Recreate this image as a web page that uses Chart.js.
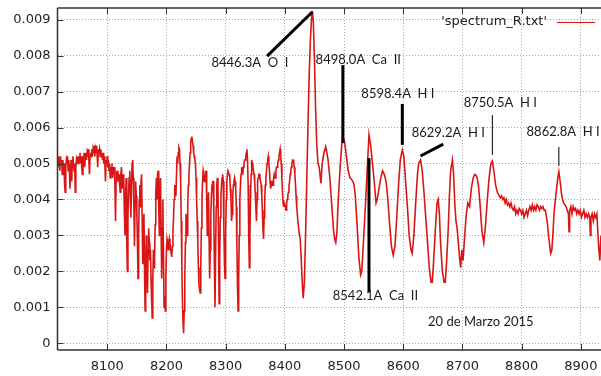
<!DOCTYPE html>
<html>
<head>
<meta charset="utf-8">
<script src="https://cdn.jsdelivr.net/npm/chart.js@4.4.0/dist/chart.umd.min.js"></script>
<style>
  html, body { margin: 0; padding: 0; background: #fff; overflow: hidden; }
  canvas { display: block; }
</style>
</head>
<body>
<canvas id="c" width="601" height="376"></canvas>
<script>
// Wavelength (Angstrom) and relative flux of the spectrum
const wavelength = [
  8016, 8017, 8018, 8019, 8020, 8021, 8022, 8023, 8024, 8025, 8026, 8027, 8028, 8029, 8030, 8031, 8032, 8033, 8034, 8035,
  8036, 8037, 8038, 8039, 8040, 8041, 8042, 8043, 8044, 8045, 8046, 8047, 8048, 8049, 8050, 8051, 8052, 8053, 8054, 8055,
  8056, 8057, 8058, 8059, 8060, 8061, 8062, 8063, 8064, 8065, 8066, 8067, 8068, 8069, 8070, 8071, 8072, 8073, 8074, 8075,
  8076, 8077, 8078, 8079, 8080, 8081, 8082, 8083, 8084, 8085, 8086, 8087, 8088, 8089, 8090, 8091, 8092, 8093, 8094, 8095,
  8096, 8097, 8098, 8099, 8100, 8101, 8102, 8103, 8104, 8105, 8106, 8107, 8108, 8109, 8110, 8111, 8112, 8113, 8114, 8115,
  8116, 8117, 8118, 8119, 8120, 8121, 8122, 8123, 8124, 8125, 8126, 8127, 8128, 8129, 8130, 8131, 8132, 8133, 8134, 8135,
  8136, 8137, 8138, 8139, 8140, 8141, 8142, 8143, 8144, 8145, 8146, 8147, 8148, 8149, 8150, 8151, 8152, 8153, 8154, 8155,
  8156, 8157, 8158, 8159, 8160, 8161, 8162, 8163, 8164, 8165, 8166, 8167, 8168, 8169, 8170, 8171, 8172, 8173, 8174, 8175,
  8176, 8177, 8178, 8179, 8180, 8181, 8182, 8183, 8184, 8185, 8186, 8187, 8188, 8189, 8190, 8191, 8192, 8193, 8194, 8195,
  8196, 8197, 8198, 8199, 8200, 8201, 8202, 8203, 8204, 8205, 8206, 8207, 8208, 8209, 8210, 8211, 8212, 8213, 8214, 8215,
  8216, 8217, 8218, 8219, 8220, 8221, 8222, 8223, 8224, 8225, 8226, 8227, 8228, 8229, 8230, 8231, 8232, 8233, 8234, 8235,
  8236, 8237, 8238, 8239, 8240, 8241, 8242, 8243, 8244, 8245, 8246, 8247, 8248, 8249, 8250, 8251, 8252, 8253, 8254, 8255,
  8256, 8257, 8258, 8259, 8260, 8261, 8262, 8263, 8264, 8265, 8266, 8267, 8268, 8269, 8270, 8271, 8272, 8273, 8274, 8275,
  8276, 8277, 8278, 8279, 8280, 8281, 8282, 8283, 8284, 8285, 8286, 8287, 8288, 8289, 8290, 8291, 8292, 8293, 8294, 8295,
  8296, 8297, 8298, 8299, 8300, 8301, 8302, 8303, 8304, 8305, 8306, 8307, 8308, 8309, 8310, 8311, 8312, 8313, 8314, 8315,
  8316, 8317, 8318, 8319, 8320, 8321, 8322, 8323, 8324, 8325, 8326, 8327, 8328, 8329, 8330, 8331, 8332, 8333, 8334, 8335,
  8336, 8337, 8338, 8339, 8340, 8341, 8342, 8343, 8344, 8345, 8346, 8347, 8348, 8349, 8350, 8351, 8352, 8353, 8354, 8355,
  8356, 8357, 8358, 8359, 8360, 8361, 8362, 8363, 8364, 8365, 8366, 8367, 8368, 8369, 8370, 8371, 8372, 8373, 8374, 8375,
  8376, 8377, 8378, 8379, 8380, 8381, 8382, 8383, 8384, 8385, 8386, 8387, 8388, 8389, 8390, 8391, 8392, 8393, 8394, 8395,
  8396, 8397, 8398, 8399, 8400, 8401, 8402, 8403, 8404, 8405, 8406, 8407, 8408, 8409, 8410, 8411, 8412, 8413, 8414, 8415,
  8416, 8417, 8418, 8419, 8420, 8422, 8424, 8426, 8428, 8430, 8431, 8433, 8435, 8437, 8439, 8441,
  8443, 8445, 8446.3, 8448, 8450, 8452, 8454, 8456, 8458, 8460, 8461, 8463, 8466, 8469, 8471, 8473, 8476, 8479,
  8482, 8484, 8486, 8488, 8490, 8493, 8496, 8498, 8501, 8504, 8507, 8510, 8513, 8515, 8517, 8519, 8522, 8525,
  8528, 8530, 8533, 8536, 8539, 8542.1, 8545, 8548, 8551, 8554, 8556, 8559, 8562, 8565, 8568, 8571, 8574, 8577,
  8580, 8583, 8586, 8589, 8592, 8595, 8598.4, 8601, 8604, 8607, 8610, 8613, 8615, 8618, 8621, 8624, 8626, 8629.2,
  8632, 8635, 8638, 8641, 8644, 8647, 8649, 8651, 8654, 8657, 8659, 8661, 8663, 8666, 8669, 8671, 8673, 8676,
  8678, 8680, 8683, 8685, 8687, 8689, 8691, 8693, 8695, 8697, 8699, 8701, 8703, 8706, 8709, 8712, 8715, 8718,
  8721, 8724, 8727, 8730, 8733, 8736, 8739, 8742, 8745, 8748, 8750.5, 8753, 8756, 8759, 8762, 8764, 8766, 8768,
  8770, 8772, 8774, 8776, 8778, 8780, 8782, 8784, 8786, 8788, 8790, 8792, 8794, 8796, 8798, 8800, 8802, 8804,
  8806, 8808, 8810, 8812, 8814, 8816, 8818, 8820, 8822, 8824, 8826, 8828, 8830, 8832, 8834, 8836, 8838, 8840,
  8843, 8846, 8849, 8851, 8853, 8855, 8857, 8859, 8861, 8862.8, 8865, 8867, 8869, 8871, 8873, 8875, 8877, 8879,
  8880, 8881, 8883, 8885, 8887, 8889, 8891, 8893, 8895, 8897, 8899, 8901, 8903, 8905, 8907, 8909, 8911, 8913,
  8915, 8916, 8917, 8919, 8921, 8923, 8925, 8927, 8928, 8930, 8932, 8934
];
const flux = [
  0.0050, 0.0052, 0.0049, 0.0051, 0.0048, 0.0052, 0.0050, 0.0051, 0.0047, 0.0051, 0.0049, 0.0050, 0.0044, 0.0042, 0.0049, 0.0051, 0.0050, 0.0052, 0.0048, 0.0051,
  0.0049, 0.0043, 0.0048, 0.0051, 0.0045, 0.0050, 0.0052, 0.0050, 0.0048, 0.0050, 0.0042, 0.0049, 0.0051, 0.0050, 0.0052, 0.0050, 0.0052, 0.0051, 0.0053, 0.0050,
  0.0052, 0.0049, 0.0047, 0.0052, 0.0051, 0.0053, 0.0049, 0.0052, 0.0053, 0.0051, 0.0053, 0.0052, 0.0054, 0.0051, 0.0047, 0.0052, 0.0053, 0.0052, 0.0054, 0.0052,
  0.0054, 0.0053, 0.0055, 0.0052, 0.0054, 0.0053, 0.0055, 0.0052, 0.0049, 0.0054, 0.0053, 0.0054, 0.0052, 0.0054, 0.0052, 0.0053, 0.0051, 0.0053, 0.0050, 0.0052,
  0.0050, 0.0045, 0.0051, 0.0050, 0.0052, 0.0049, 0.0051, 0.0048, 0.0050, 0.0046, 0.0049, 0.0047, 0.0050, 0.0046, 0.0049, 0.0047, 0.0049, 0.0044, 0.0034, 0.0045,
  0.0048, 0.0046, 0.0048, 0.0045, 0.0047, 0.0044, 0.0042, 0.0047, 0.0049, 0.0045, 0.0043, 0.0047, 0.0044, 0.0036, 0.0030, 0.0042, 0.0046, 0.0028, 0.0020, 0.0035,
  0.0042, 0.0046, 0.0048, 0.0041, 0.0035, 0.0044, 0.0050, 0.0051, 0.0046, 0.0038, 0.0027, 0.0040, 0.0045, 0.0041, 0.0036, 0.0028, 0.0018, 0.0030, 0.0040, 0.0044,
  0.0038, 0.0045, 0.0047, 0.0035, 0.0022, 0.0030, 0.0036, 0.0020, 0.0009, 0.0022, 0.0030, 0.0024, 0.0014, 0.0026, 0.0032, 0.0028, 0.0023, 0.0026, 0.0018, 0.0012,
  0.0007, 0.0018, 0.0026, 0.0021, 0.0024, 0.0033, 0.0042, 0.0046, 0.0040, 0.0047, 0.0048, 0.0038, 0.0030, 0.0041, 0.0046, 0.0032, 0.0018, 0.0029, 0.0040, 0.0025,
  0.0010, 0.0013, 0.0009, 0.0018, 0.0026, 0.0029, 0.0028, 0.0026, 0.0027, 0.0029, 0.0028, 0.0026, 0.0025, 0.0024, 0.0027, 0.0031, 0.0035, 0.0040, 0.0044, 0.0042,
  0.0041, 0.0047, 0.0052, 0.0050, 0.0053, 0.00545, 0.0054, 0.0050, 0.0045, 0.0034, 0.0022, 0.0012, 0.0006, 0.00028, 0.0009, 0.0018, 0.0028, 0.0036, 0.0033, 0.0030,
  0.0038, 0.0044, 0.0047, 0.0050, 0.0053, 0.0056, 0.0057, 0.00575, 0.0056, 0.0055, 0.0053, 0.0052, 0.0051, 0.0050, 0.0046, 0.0040, 0.0034, 0.0028, 0.0021, 0.0016,
  0.0015, 0.0014, 0.0022, 0.0032, 0.0040, 0.0045, 0.0048, 0.0047, 0.0045, 0.0046, 0.0047, 0.0048, 0.0040, 0.0030, 0.0036, 0.0042, 0.0030, 0.0018, 0.0026, 0.0036,
  0.0041, 0.0044, 0.0045, 0.0045, 0.0036, 0.0022, 0.0010, 0.0024, 0.0038, 0.0044, 0.0046, 0.0044, 0.0028, 0.0011, 0.0024, 0.0035, 0.0041, 0.0044, 0.0046, 0.0047,
  0.0045, 0.0032, 0.0022, 0.0018, 0.0030, 0.0040, 0.0045, 0.0047, 0.0048, 0.0048, 0.0047, 0.0046, 0.0043, 0.0040, 0.0034, 0.0036, 0.0041, 0.0044, 0.0045, 0.0046,
  0.0045, 0.0043, 0.0038, 0.0028, 0.0016, 0.0009, 0.0018, 0.0030, 0.0040, 0.0044, 0.0047, 0.0049, 0.0048, 0.0047, 0.0049, 0.0050, 0.0051, 0.0051, 0.0052, 0.0053,
  0.0054, 0.0051, 0.0044, 0.0030, 0.0021, 0.0030, 0.0040, 0.0047, 0.0051, 0.0050, 0.0049, 0.0048, 0.0047, 0.0045, 0.0042, 0.0038, 0.0034, 0.0040, 0.0045, 0.0046,
  0.0047, 0.0047, 0.0046, 0.0045, 0.0044, 0.0041, 0.0037, 0.0032, 0.0029, 0.0035, 0.0040, 0.0044, 0.0046, 0.0048, 0.0050, 0.0051, 0.0052, 0.0050, 0.0048, 0.0045,
  0.0043, 0.0044, 0.0045, 0.0045, 0.0044, 0.0046, 0.0047, 0.0046, 0.0046, 0.0048, 0.0049, 0.0049, 0.0050, 0.0051, 0.0052, 0.0053, 0.0054, 0.0052, 0.0050, 0.0046,
  0.0042, 0.0039, 0.0038, 0.0039, 0.0039, 0.0038, 0.0037, 0.0039, 0.0040, 0.0041, 0.0042, 0.0044, 0.0045, 0.0047, 0.0048, 0.0049, 0.0050, 0.0051, 0.0051, 0.0050,
  0.0049, 0.0047, 0.0044, 0.0041, 0.0038, 0.0034, 0.0031, 0.0029, 0.0022, 0.0015, 0.00125, 0.0017, 0.0030, 0.0045, 0.0060, 0.0074,
  0.0084, 0.0090, 0.00925, 0.0090, 0.0079, 0.0065, 0.0055, 0.0050, 0.0049, 0.0046, 0.00445, 0.0050, 0.0053, 0.00547, 0.0053, 0.0051, 0.0046, 0.0039,
  0.0032, 0.0029, 0.0028, 0.0031, 0.0039, 0.0048, 0.0055, 0.00575, 0.0056, 0.0052, 0.0048, 0.0046, 0.00455, 0.0045, 0.0044, 0.0041, 0.0033, 0.0024,
  0.0019, 0.0020, 0.0029, 0.0038, 0.0048, 0.0058, 0.0055, 0.0050, 0.0045, 0.0039, 0.0040, 0.0043, 0.0046, 0.0048, 0.0047, 0.0045, 0.0040, 0.0033,
  0.0027, 0.00245, 0.0027, 0.0035, 0.0044, 0.0051, 0.00538, 0.0052, 0.0045, 0.0038, 0.0030, 0.0026, 0.0025, 0.0030, 0.0039, 0.0047, 0.0050, 0.0051,
  0.0048, 0.0042, 0.0035, 0.0028, 0.0021, 0.0017, 0.0017, 0.0022, 0.0031, 0.0039, 0.0040, 0.0036, 0.0028, 0.0020, 0.0017, 0.0017, 0.0022, 0.0032,
  0.0041, 0.0048, 0.0051, 0.0047, 0.0039, 0.0034, 0.0032, 0.0028, 0.0024, 0.0021, 0.0026, 0.0023, 0.0028, 0.0035, 0.0039, 0.0038, 0.0043, 0.0046,
  0.0047, 0.00465, 0.0044, 0.0038, 0.0031, 0.0028, 0.0033, 0.0040, 0.0046, 0.0050, 0.00507, 0.0048, 0.0044, 0.0042, 0.0041, 0.00405, 0.0041, 0.0040,
  0.00405, 0.0039, 0.0040, 0.00385, 0.0039, 0.0038, 0.0039, 0.00375, 0.0037, 0.0038, 0.0036, 0.0037, 0.0036, 0.00375, 0.0037, 0.0036, 0.0037, 0.0035,
  0.0036, 0.0037, 0.00355, 0.0037, 0.0038, 0.0037, 0.00385, 0.0037, 0.0038, 0.0037, 0.00385, 0.0038, 0.0037, 0.0038, 0.00375, 0.0038, 0.0037, 0.0037,
  0.0034, 0.0029, 0.0025, 0.0026, 0.0031, 0.0037, 0.0040, 0.0043, 0.0046, 0.00477, 0.0045, 0.0042, 0.0040, 0.0039, 0.00385, 0.0038, 0.0037, 0.0036,
  0.0031, 0.0037, 0.0038, 0.0036, 0.0038, 0.0037, 0.00375, 0.0036, 0.0037, 0.0036, 0.0037, 0.0035, 0.0036, 0.0037, 0.0035, 0.0036, 0.0035, 0.0036,
  0.0035, 0.0030, 0.0035, 0.0036, 0.0034, 0.0036, 0.0035, 0.0036, 0.0033, 0.0027, 0.0023, 0.0030
];

// Axis tick values
const xTicks = [8100, 8200, 8300, 8400, 8500, 8600, 8700, 8800, 8900];
const yTicks = [0, 0.001, 0.002, 0.003, 0.004, 0.005, 0.006, 0.007, 0.008, 0.009];

// Line identifications: text anchor and pointer segment, in data coordinates
const lineLabels = [
  { text: '8446.3A  O  I',   at: [8341, 0.00780], from: [8370, 0.00799], to: [8446.3, 0.00922], width: 3 },
  { text: '8498.0A  Ca  II', at: [8524, 0.00788], from: [8498.0, 0.00774], to: [8498.0, 0.00557], width: 3 },
  { text: '8598.4A  H I',    at: [8591, 0.00694], from: [8598.4, 0.00666], to: [8598.4, 0.00552], width: 3 },
  { text: '8629.2A  H I',    at: [8676, 0.00585], from: [8629.2, 0.00521], to: [8667.6, 0.00554], width: 3 },
  { text: '8750.5A  H I',    at: [8764, 0.00669], from: [8750.5, 0.00635], to: [8750.5, 0.00524], width: 1 },
  { text: '8862.8A  H I',    at: [8870, 0.00588], from: [8862.8, 0.00546], to: [8862.8, 0.00493], width: 1 },
  { text: '8542.1A  Ca  II', at: [8553, 0.00132], from: [8542.1, 0.00515], to: [8542.1, 0.00142], width: 3 }
];
const dateLabel = { text: '20 de Marzo 2015', at: [8731, 0.00059] };

const points = wavelength.map((x, i) => ({ x: x, y: flux[i] }));

const labelFont = '13px Lato, "Open Sans", sans-serif';

// Frame, inward tick marks, legend and line identifications
const framePlugin = {
  id: 'frame',
  afterDraw(chart) {
    const ctx = chart.ctx;
    const a = chart.chartArea;
    const xs = chart.scales.x, ys = chart.scales.y;
    ctx.save();
    ctx.strokeStyle = '#333';
    ctx.lineWidth = 1.5;
    ctx.beginPath();
    ctx.moveTo(a.left, a.top); ctx.lineTo(a.right + 2, a.top);
    ctx.moveTo(a.left, a.top); ctx.lineTo(a.left, a.bottom);
    ctx.moveTo(a.left, a.bottom); ctx.lineTo(a.right + 2, a.bottom);
    ctx.stroke();
    ctx.lineWidth = 1;
    ctx.beginPath();
    xTicks.forEach(v => {
      const px = Math.round(xs.getPixelForValue(v)) + 0.5;
      ctx.moveTo(px, a.bottom); ctx.lineTo(px, a.bottom - 6);
      ctx.moveTo(px, a.top); ctx.lineTo(px, a.top + 6);
    });
    yTicks.forEach(v => {
      const py = Math.round(ys.getPixelForValue(v)) + 0.5;
      ctx.moveTo(a.left, py); ctx.lineTo(a.left + 6, py);
    });
    ctx.stroke();

    // legend
    const ds = chart.data.datasets[0];
    ctx.font = '13px "DejaVu Sans", sans-serif';
    ctx.fillStyle = '#222';
    ctx.textAlign = 'right';
    ctx.textBaseline = 'middle';
    ctx.fillText(ds.label, 547, 22);
    ctx.strokeStyle = ds.borderColor;
    ctx.lineWidth = 1.2;
    ctx.beginPath();
    ctx.moveTo(557, 22.5); ctx.lineTo(595, 22.5);
    ctx.stroke();

    // identifications
    ctx.strokeStyle = '#000';
    ctx.lineCap = 'butt';
    lineLabels.forEach(l => {
      ctx.lineWidth = l.width;
      ctx.beginPath();
      ctx.moveTo(xs.getPixelForValue(l.from[0]), ys.getPixelForValue(l.from[1]));
      ctx.lineTo(xs.getPixelForValue(l.to[0]), ys.getPixelForValue(l.to[1]));
      ctx.stroke();
    });
    ctx.font = labelFont;
    ctx.fillStyle = '#1a1a1a';
    ctx.textAlign = 'center';
    lineLabels.concat([dateLabel]).forEach(l => {
      ctx.fillText(l.text, xs.getPixelForValue(l.at[0]), ys.getPixelForValue(l.at[1]));
    });
    ctx.restore();
  }
};

new Chart(document.getElementById('c'), {
  type: 'line',
  data: {
    datasets: [{
      label: "'spectrum_R.txt'",
      data: points,
      borderColor: '#d81616',
      borderWidth: 1.6,
      pointRadius: 0,
      tension: 0,
      fill: false
    }]
  },
  options: {
    responsive: false,
    animation: false,
    devicePixelRatio: 1,
    layout: { padding: { top: 8, left: 0, right: 0, bottom: 0 } },
    plugins: { legend: { display: false }, tooltip: { enabled: false } },
    scales: {
      x: {
        type: 'linear',
        min: 8016,
        max: 8934,
        afterBuildTicks: s => { s.ticks = xTicks.map(v => ({ value: v })); },
        afterFit: s => { s.height = 26; s.paddingLeft = 0; s.paddingRight = 0; },
        grid: { color: '#a8a8a8', lineWidth: 1, drawTicks: false },
        border: { display: false, dash: [1, 2] },
        ticks: {
          padding: 9,
          color: '#222',
          font: { family: '"DejaVu Sans", sans-serif', size: 13 },
          maxRotation: 0,
          callback: v => String(v)
        }
      },
      y: {
        type: 'linear',
        min: -0.00019,
        max: 0.00933,
        afterBuildTicks: s => { s.ticks = yTicks.map(v => ({ value: v })); },
        afterFit: s => { s.width = 57.5; s.paddingTop = 0; s.paddingBottom = 0; },
        grid: { color: '#a8a8a8', lineWidth: 1, drawTicks: false },
        border: { display: false, dash: [1, 2] },
        ticks: {
          padding: 7,
          color: '#222',
          font: { family: '"DejaVu Sans", sans-serif', size: 13 },
          callback: v => (Math.abs(v) < 1e-9 ? '0' : v.toFixed(3))
        }
      }
    }
  },
  plugins: [framePlugin]
});
</script>
</body>
</html>
